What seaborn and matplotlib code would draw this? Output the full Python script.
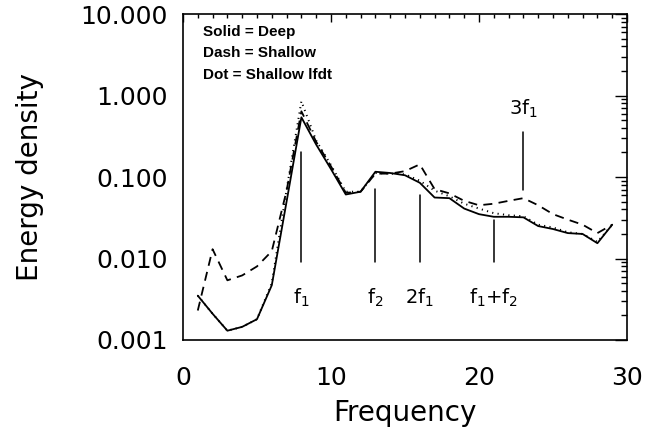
import numpy as np
import pandas as pd
import matplotlib
matplotlib.use("Agg")
import matplotlib.pyplot as plt
import seaborn as sns
from matplotlib.ticker import FixedLocator, MultipleLocator, LogLocator, NullFormatter, FuncFormatter

# ---- data ----
freq = [1, 2, 3, 4, 5, 6, 7, 8, 9, 10, 11, 12, 13, 14, 15, 16, 17, 18, 19, 20,
        21, 22, 23, 24, 25, 26, 27, 28, 29]
deep = [0.0035, 0.0021, 0.0013, 0.00145, 0.0018, 0.0047, 0.05, 0.54, 0.25, 0.125,
        0.061, 0.066, 0.116, 0.112, 0.105, 0.085, 0.056, 0.055, 0.041, 0.035,
        0.0325, 0.0325, 0.032, 0.025, 0.023, 0.0205, 0.020, 0.0154, 0.026]
shallow = [0.0023, 0.013, 0.0054, 0.0062, 0.0080, 0.0123, 0.068, 0.64, 0.27, 0.135,
           0.064, 0.066, 0.11, 0.11, 0.118, 0.143, 0.071, 0.063, 0.051, 0.045,
           0.047, 0.051, 0.055, 0.045, 0.035, 0.030, 0.026, 0.0205, 0.026]
shallow_lfdt = [0.0035, 0.0021, 0.0013, 0.00145, 0.0018, 0.0050, 0.07, 0.85, 0.28, 0.14,
                0.066, 0.066, 0.112, 0.11, 0.108, 0.09, 0.068, 0.058, 0.047, 0.041,
                0.036, 0.034, 0.033, 0.026, 0.024, 0.021, 0.020, 0.016, 0.026]

harm_freq = [8, 13, 16, 21, 23]
harm_labels = [r'f$_1$', r'f$_2$', r'2f$_1$', r'f$_1$+f$_2$', r'3f$_1$']
harm_low = [0.009, 0.009, 0.009, 0.009, 0.069]
harm_high = [0.2, 0.072, 0.06, 0.030, 0.36]
harm_label_y = [0.0033, 0.0033, 0.0033, 0.0033, 0.68]

legend_lines = ["Solid = Deep", "Dash = Shallow", "Dot = Shallow lfdt"]
ytick_vals = [0.001, 0.01, 0.1, 1.0, 10.0]
xtick_vals = [0, 10, 20, 30]

df = pd.DataFrame({
    "Frequency": freq * 3,
    "Energy": deep + shallow + shallow_lfdt,
    "Run": ["Deep"] * len(freq) + ["Shallow"] * len(freq) + ["Shallow lfdt"] * len(freq),
})

sns.set_theme(style="white")
plt.rcParams['font.family'] = ['DejaVu Sans']
plt.rcParams['text.color'] = 'black'
plt.rcParams['axes.labelcolor'] = 'black'
plt.rcParams['xtick.color'] = 'black'
plt.rcParams['ytick.color'] = 'black'

fig = plt.figure(figsize=(6.45, 4.34), dpi=100)
ax = fig.add_axes([0.2837, 0.2166, 0.9721 - 0.2837, 0.9677 - 0.2166])

styles = {"Deep": (None, 1.3), "Shallow": ((5, 3.5), 1.3), "Shallow lfdt": ((0.6, 2.2), 1.4)}
for run, (dash, lw) in styles.items():
    sub = df[df["Run"] == run]
    sns.lineplot(data=sub, x="Frequency", y="Energy", ax=ax, color="black",
                 lw=lw, estimator=None, legend=False)
    l = ax.lines[-1]
    if dash is not None:
        l.set_dashes(dash)

ax.set_yscale("log")
ax.set_xlim(0, 30)
ax.set_ylim(0.001, 10)

for fx, lo, hi in zip(harm_freq, harm_low, harm_high):
    ax.plot([fx, fx], [lo, hi], color="black", lw=1.1)
for fx, lab, ly in zip(harm_freq, harm_labels, harm_label_y):
    ax.text(fx, ly, lab, ha="center", va="center", fontsize=14, color="black")

for i, t in enumerate(legend_lines):
    ax.text(0.045, 0.945 - i * 0.066, t, transform=ax.transAxes, fontsize=11,
            fontweight="bold", family="Liberation Sans", ha="left", va="center",
            color="black")

ax.yaxis.set_major_locator(FixedLocator(ytick_vals))
ax.yaxis.set_major_formatter(FuncFormatter(lambda v, p: "%.3f" % v))
ax.yaxis.set_minor_locator(LogLocator(base=10, subs=np.arange(2, 10)))
ax.yaxis.set_minor_formatter(NullFormatter())
ax.xaxis.set_major_locator(FixedLocator(xtick_vals))
ax.xaxis.set_minor_locator(MultipleLocator(1))

ax.tick_params(axis="both", which="both", direction="in", top=True, right=True,
               color="black", width=1.0, labelcolor="black")
ax.tick_params(axis="y", which="major", length=9, pad=11, labelsize=18)
ax.tick_params(axis="y", which="minor", length=4.5)
ax.tick_params(axis="x", which="major", length=6, pad=19, labelsize=18)
ax.tick_params(axis="x", which="minor", length=3)

for s in ax.spines.values():
    s.set_color("black")
    s.set_linewidth(1.2)

ax.set_xlabel("Frequency", fontsize=20, labelpad=6, color="black")
ax.set_ylabel("Energy density", fontsize=20, labelpad=26, color="black")

fig.savefig("out.png", dpi=100)
